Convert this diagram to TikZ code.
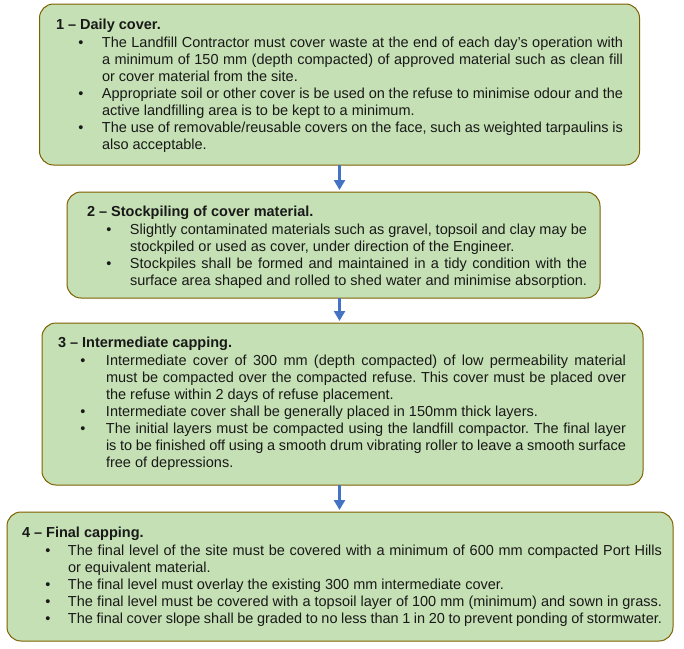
\documentclass[tikz,border=0pt]{standalone}
\usepackage{fontspec}
\setmainfont{Liberation Sans}
\usetikzlibrary{arrows.meta}
\definecolor{boxfill}{HTML}{C5E0B4}
\definecolor{boxedge}{HTML}{7F6000}
\definecolor{arrblue}{HTML}{4472C4}
\newlength\bxo \newlength\txo \newlength\tw
\newcommand\myBul{\makebox[\txo][l]{\hspace*{\bxo}\makebox[0pt]{\textbullet}}}
\newcommand\myInd{\hspace*{\txo}}
\newcommand\myJ[1]{\makebox[\tw][s]{#1}}
\newcommand\myTL[1]{\hbox{\textbf{#1}}\vskip1pt}
\newcommand\myBJ[1]{\hbox{\myBul\myJ{#1}}}
\newcommand\myBN[1]{\hbox{\myBul #1}}
\newcommand\myIJ[1]{\hbox{\myInd\myJ{#1}}}
\newcommand\myIN[1]{\hbox{\myInd #1}}
\newcommand\myLines[1]{\vtop{\baselineskip=17.1pt\lineskiplimit=-10pt #1}}
\frenchspacing
\begin{document}
\begin{tikzpicture}[x=1pt,y=-1pt,
  box/.style={draw=boxedge,fill=boxfill,line width=1pt,rounded corners=14pt,inner sep=0pt,outer sep=0pt},
  txt/.style={anchor=base west,inner sep=0pt,outer sep=0pt,font=\fontsize{14.5}{17.1}\selectfont\frenchspacing,text=black!90},
  arr/.style={draw=arrblue,line width=2.3pt,-{Triangle[width=11pt,length=10pt]},shorten >=2pt}]
\useasboundingbox (0,0) rectangle (684,648);
\node[box,minimum width=600pt,minimum height=161pt] (b1) at (339.5,84.5) {};
\node[box,minimum width=533pt,minimum height=106pt] (b2) at (333.5,245) {};
\node[box,minimum width=601pt,minimum height=162pt] (b3) at (342.5,404) {};
\node[box,minimum width=666pt,minimum height=129pt] (b4) at (340,576.5) {};

\setlength\bxo{25pt}\setlength\txo{46pt}\setlength\tw{521pt}
\node[txt] (t1) at (56,29) {\myLines{%
\myTL{1 – Daily cover.}
\myBJ{The Landfill Contractor must cover waste at the end of each day’s operation with}
\myIJ{a minimum of 150 mm (depth compacted) of approved material such as clean fill}
\myIN{or cover material from the site.}
\myBJ{Appropriate soil or other cover is be used on the refuse to minimise odour and the}
\myIN{active landfilling area is to be kept to a minimum.}
\myBJ{The use of removable/reusable covers on the face, such as weighted tarpaulins is}
\myIN{also acceptable.}}};

\setlength\bxo{22pt}\setlength\txo{43pt}\setlength\tw{457pt}
\node[txt] (t2) at (87,216) {\myLines{%
\myTL{2 – Stockpiling of cover material.}
\myBJ{Slightly contaminated materials such as gravel, topsoil and clay may be}
\myIN{stockpiled or used as cover, under direction of the Engineer.}
\myBJ{Stockpiles shall be formed and maintained in a tidy condition with the}
\myIJ{surface area shaped and rolled to shed water and minimise absorption.}}};

\setlength\bxo{25pt}\setlength\txo{48pt}\setlength\tw{520pt}
\node[txt] (t3) at (58,347) {\myLines{%
\myTL{3 – Intermediate capping.}
\myBJ{Intermediate cover of 300 mm (depth compacted) of low permeability material}
\myIJ{must be compacted over the compacted refuse. This cover must be placed over}
\myIN{the refuse within 2 days of refuse placement.}
\myBN{Intermediate cover shall be generally placed in 150mm thick layers.}
\myBJ{The initial layers must be compacted using the landfill compactor. The final layer}
\myIJ{is to be finished off using a smooth drum vibrating roller to leave a smooth surface}
\myIN{free of depressions.}}};

\setlength\bxo{26pt}\setlength\txo{46pt}\setlength\tw{594pt}
\node[txt] (t4) at (22,537) {\myLines{%
\myTL{4 – Final capping.}
\myBJ{The final level of the site must be covered with a minimum of 600 mm compacted Port Hills}
\myIN{or equivalent material.}
\myBN{The final level must overlay the existing 300 mm intermediate cover.}
\myBJ{The final level must be covered with a topsoil layer of 100 mm (minimum) and sown in grass.}
\myBJ{The final cover slope shall be graded to no less than 1 in 20 to prevent ponding of stormwater.}}};

\draw[arr] (b1.south) -- (b1.south |- b2.north);
\draw[arr] (b2.south -| b1.south) -- (b3.north -| b1.south);
\draw[arr] (b3.south -| b1.south) -- (b4.north -| b1.south);
\end{tikzpicture}
\end{document}
